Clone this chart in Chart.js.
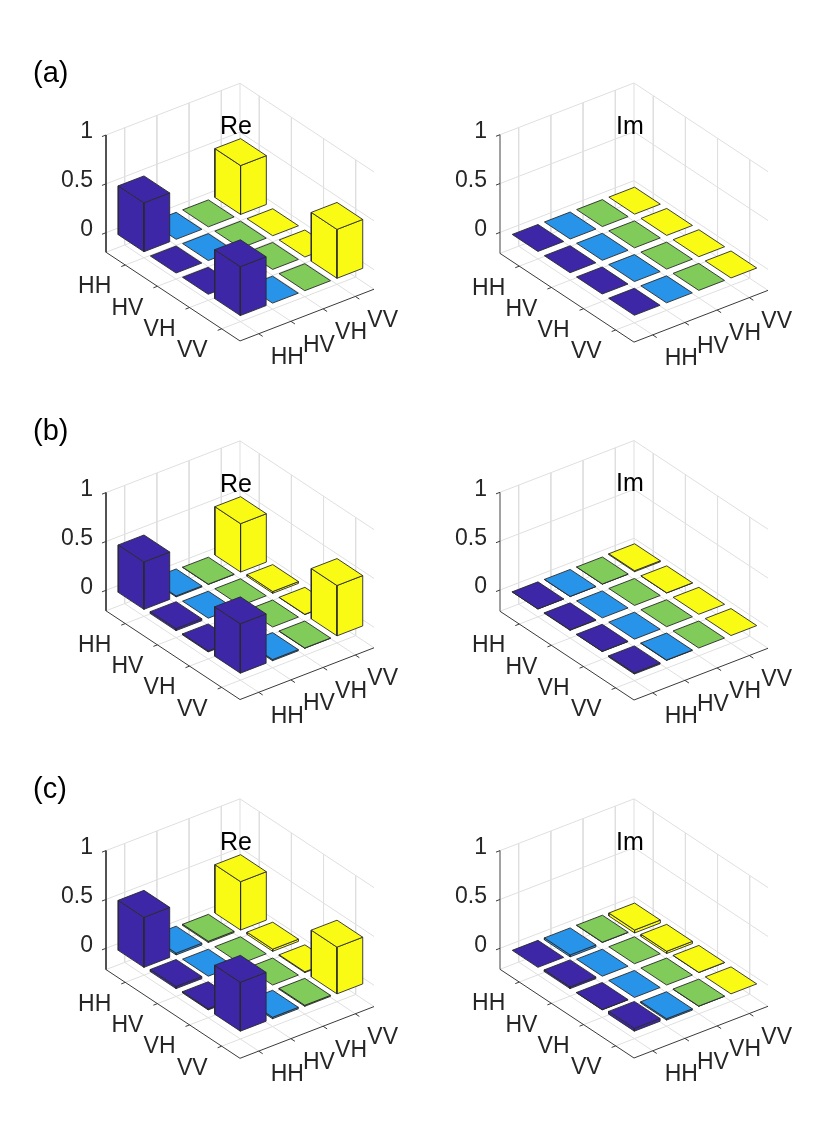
<!DOCTYPE html>
<html>
<head>
<meta charset="utf-8">
<script src="https://cdn.jsdelivr.net/npm/chart.js@4"></script>
<style>
    html, body { margin: 0; padding: 0; background: #fff; overflow: hidden; }
    canvas { position: absolute; }
</style>
</head>
<body>
<script>
const basis = ['HH', 'HV', 'VH', 'VV'];
const zTicks = [0, 0.5, 1];
const figureLabels = ['(a)', '(b)', '(c)'];
const partLabels = ['Re', 'Im'];

// values, rows HH..VV, columns HH..VV
const reA = [
    [0.50, 0, 0, 0.50],
    [0, 0, 0, 0],
    [0, 0, 0, 0],
    [0.50, 0, 0, 0.50]
];
const imA = [
    [0, 0, 0, 0],
    [0, 0, 0, 0],
    [0, 0, 0, 0],
    [0, 0, 0, 0]
];
const reB = [
    [0.485, 0.01, 0.003, 0.495],
    [0.02, 0, 0, 0.018],
    [0.01, 0, 0, 0.003],
    [0.505, 0.012, 0.003, 0.515]
];
const imB = [
    [0.002, 0.002, 0.002, 0.01],
    [0.005, 0, 0, 0.002],
    [0.003, 0, 0, 0],
    [-0.012, 0.004, 0, 0]
];
const reC = [
    [0.512, 0.018, 0.012, 0.495],
    [0.022, 0, 0, 0.022],
    [0.012, 0, 0, 0.008],
    [0.50, 0.015, 0.01, 0.478]
];
const imC = [
    [0, -0.02, 0.003, -0.03],
    [0.018, 0, 0, -0.022],
    [0.004, 0, 0, 0.002],
    [0.028, -0.014, 0.002, 0]
];

const columnColors = ['#3d27a7', '#2894e9', '#80cb59', '#f9fb14'];

// view of the 3d box
const PX_PER_UNIT = 134;
const ROW_DROP = 0.662;
const COL_RISE = 0.386;
const Z_RISE = 0.729;
const ROW_LIM = [0.4, 4.57];
const COL_LIM = [0.42, 4.58];
const BAR_HALF = 0.4;

const CELL_W = 415;
const CELL_H = 375;
const FONT = '"Liberation Sans", Arial, sans-serif';

const panels = [
    { values: reA, part: 0, figure: 0, col: 0, row: 0, left: 106, zeroY: 232.7, zMin: -0.2 },
    { values: imA, part: 1, figure: -1, col: 1, row: 0, left: 85, zeroY: 232.4, zMin: -0.215 },
    { values: reB, part: 0, figure: 1, col: 0, row: 1, left: 106, zeroY: 216.3, zMin: -0.21 },
    { values: imB, part: 1, figure: -1, col: 1, row: 1, left: 85, zeroY: 216, zMin: -0.218 },
    { values: reC, part: 0, figure: 2, col: 0, row: 2, left: 106, zeroY: 200.3, zMin: -0.218 },
    { values: imC, part: 1, figure: -1, col: 1, row: 2, left: 85, zeroY: 200.3, zMin: -0.215 }
];

const frac = (v, lim) => (v - lim[0]) / (lim[1] - lim[0]);

function project(r, c, z) {
    const fr = frac(r, ROW_LIM);
    const fc = frac(c, COL_LIM);
    return { x: fr + fc, y: Z_RISE * z - ROW_DROP * fr + COL_RISE * fc };
}

function pathSet(points, color, width) {
    return {
        data: points,
        showLine: true,
        borderColor: color,
        borderWidth: width,
        pointRadius: 0,
        tension: 0,
        fill: false
    };
}

function faceSet(points, color) {
    const closed = points.concat([points[0]]);
    return {
        data: closed,
        showLine: true,
        borderColor: '#2a2a2a',
        borderWidth: 0.9,
        backgroundColor: color,
        pointRadius: 0,
        tension: 0,
        fill: 'shape'
    };
}

function boxSets(panel) {
    const sets = [];
    const grey = '#dfdfdf';
    const rA = ROW_LIM[0], rB = ROW_LIM[1], cA = COL_LIM[0], cB = COL_LIM[1];
    const zA = panel.zMin, zB = 1;

    zTicks.forEach(z => {
        sets.push(pathSet([project(rA, cA, z), project(rA, cB, z), project(rB, cB, z)], grey, 1));
    });
    sets.push(pathSet([project(rA, cA, zA), project(rA, cB, zA), project(rB, cB, zA)], grey, 1));
    sets.push(pathSet([project(rA, cB, zA), project(rA, cB, zB)], grey, 1));

    basis.forEach((b, i) => {
        const k = i + 1;
        sets.push(pathSet([project(rA, k, zB), project(rA, k, zA), project(rB, k, zA)], grey, 1));
        sets.push(pathSet([project(k, cB, zB), project(k, cB, zA), project(k, cA, zA)], grey, 1));
    });
    return sets;
}

function axisSets(panel) {
    const sets = [];
    const ink = '#3a3a3a';
    const rA = ROW_LIM[0], rB = ROW_LIM[1], cA = COL_LIM[0], cB = COL_LIM[1];
    const zA = panel.zMin;
    const tickC = 0.03 * (cB - cA);
    const tickR = 0.03 * (rB - rA);

    sets.push(pathSet([project(rA, cA, 1), project(rA, cA, zA)], panel.part ? '#8a8a8a' : ink, panel.part ? 1.6 : 1));
    sets.push(pathSet([project(rA, cA, zA), project(rB, cA, zA), project(rB, cB, zA)], ink, 1));

    zTicks.forEach(z => {
        sets.push(pathSet([project(rA, cA, z), project(rA, cA - tickC, z)], ink, 1));
    });
    basis.forEach((b, i) => {
        const k = i + 1;
        sets.push(pathSet([project(k, cA, zA), project(k, cA - tickC, zA)], ink, 1));
        sets.push(pathSet([project(rB, k, zA), project(rB + tickR, k, zA)], ink, 1));
    });
    return sets;
}

function barSets(values) {
    const cells = [];
    values.forEach((line, i) => {
        line.forEach((v, j) => cells.push({ r: i + 1, c: j + 1, v: v }));
    });
    // far corner first, so nearer bars paint over it
    cells.sort((a, b) => (a.r - a.c) - (b.r - b.c));

    const sets = [];
    cells.forEach(cell => {
        const r0 = cell.r - BAR_HALF, r1 = cell.r + BAR_HALF;
        const c0 = cell.c - BAR_HALF, c1 = cell.c + BAR_HALF;
        const hi = Math.max(cell.v, 0);
        const lo = Math.min(cell.v, 0);
        const color = columnColors[cell.c - 1];
        if (hi > lo) {
            sets.push(faceSet([project(r0, c0, lo), project(r1, c0, lo), project(r1, c0, hi), project(r0, c0, hi)], color));
            sets.push(faceSet([project(r1, c0, lo), project(r1, c1, lo), project(r1, c1, hi), project(r1, c0, hi)], color));
        }
        sets.push(faceSet([project(r0, c0, hi), project(r1, c0, hi), project(r1, c1, hi), project(r0, c1, hi)], color));
    });
    return sets;
}

const textPlugin = {
    id: 'boxText',
    afterDatasetsDraw(chart, args, opts) {
        const panel = opts.panel;
        const ctx = chart.ctx;
        const sx = chart.scales.x;
        const sy = chart.scales.y;
        const at = p => ({ x: sx.getPixelForValue(p.x), y: sy.getPixelForValue(p.y) });
        const rA = ROW_LIM[0], rB = ROW_LIM[1], cA = COL_LIM[0], cB = COL_LIM[1];

        ctx.save();
        ctx.textBaseline = 'middle';
        ctx.fillStyle = '#262626';
        ctx.font = '23px ' + FONT;

        ctx.textAlign = 'right';
        zTicks.forEach(z => {
            const p = at(project(rA, cA, z));
            ctx.fillText(String(z), p.x - 13, p.y - 3);
        });
        basis.forEach((b, i) => {
            const p = at(project(i + 1, cA, panel.zMin));
            ctx.fillText(b, p.x - 14, p.y + 22);
        });
        ctx.textAlign = 'left';
        basis.forEach((b, i) => {
            const p = at(project(rB, i + 1, panel.zMin));
            ctx.fillText(b, p.x + 12, p.y + 24);
        });

        const corner = at(project(rA, cB, 1));
        const topLeft = at(project(rA, cA, 1));
        ctx.fillStyle = '#000';
        ctx.font = '25px ' + FONT;
        ctx.textAlign = 'center';
        ctx.fillText(partLabels[panel.part], corner.x - 4, topLeft.y - 8);

        if (panel.figure >= 0) {
            ctx.font = '29px ' + FONT;
            ctx.textAlign = 'left';
            ctx.fillText(figureLabels[panel.figure], topLeft.x - 73, topLeft.y - 61);
        }
        ctx.restore();
    }
};

panels.forEach(panel => {
    const canvas = document.createElement('canvas');
    canvas.style.left = panel.col * CELL_W + 'px';
    canvas.style.top = panel.row * CELL_H - panel.row + 'px';
    canvas.style.width = CELL_W + 'px';
    canvas.style.height = CELL_H + 'px';
    canvas.width = CELL_W;
    canvas.height = CELL_H;
    document.body.appendChild(canvas);

    const layers = boxSets(panel).concat(axisSets(panel), barSets(panel.values));

    new Chart(canvas.getContext('2d'), {
        type: 'scatter',
        data: { datasets: layers.reverse() }, // first dataset is painted last
        options: {
            responsive: false,
            devicePixelRatio: 1,
            animation: false,
            events: [],
            scales: {
                x: { display: false, min: -panel.left / PX_PER_UNIT, max: (CELL_W - panel.left) / PX_PER_UNIT },
                y: { display: false, min: (panel.zeroY - CELL_H) / PX_PER_UNIT, max: panel.zeroY / PX_PER_UNIT }
            },
            plugins: {
                legend: { display: false },
                tooltip: { enabled: false },
                boxText: { panel: panel }
            }
        },
        plugins: [textPlugin]
    });
});
</script>
</body>
</html>
